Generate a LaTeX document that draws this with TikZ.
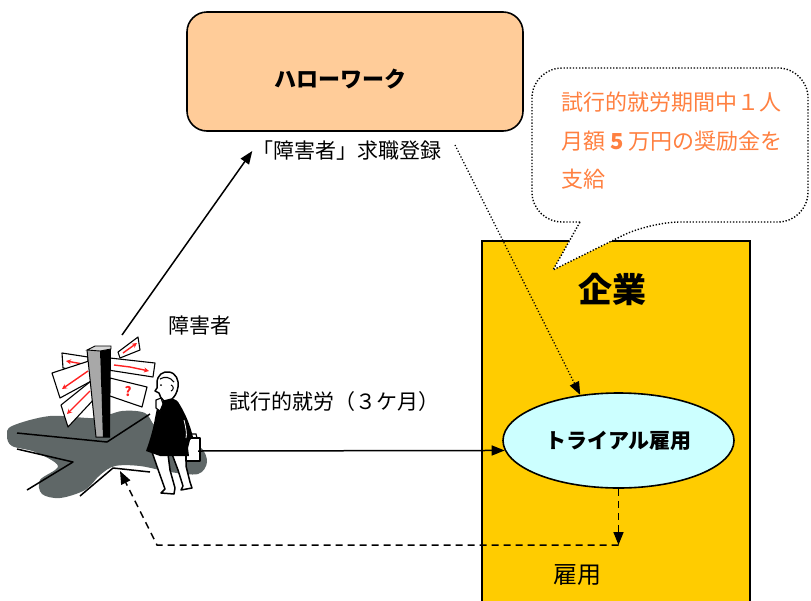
\documentclass[tikz,border=0pt]{standalone}
\usepackage{fontspec}
\newfontfamily\jp{Noto Sans CJK JP}
\usetikzlibrary{arrows.meta,shapes.geometric}
\definecolor{hwfill}{HTML}{FFCC99}
\definecolor{firmfill}{HTML}{FFCC00}
\definecolor{trialfill}{HTML}{CCFFFF}
\definecolor{notecol}{HTML}{FF8040}
\definecolor{groundgray}{HTML}{5F6767}
\definecolor{polegray}{HTML}{A8A8A8}
\definecolor{polecap}{HTML}{D8D8D8}
\definecolor{signred}{HTML}{FF2020}

\begin{document}
\begin{tikzpicture}[x=1pt,y=-1pt,
  txt/.style={font=\jp\fontsize{21}{25}\selectfont, inner sep=0},
  boldtxt/.style={font=\jp\bfseries\fontsize{#1}{#1}\selectfont, inner sep=0},
  flowarrow/.style={line width=1.5pt, -{Triangle[length=13pt,width=10pt]}},
  returnarrow/.style={flowarrow, dash pattern=on 7pt off 5pt},
  noticearrow/.style={line width=1.3pt, dash pattern=on 1.2pt off 2pt, -{Triangle[length=13pt,width=10pt]}},
  clipedge/.style={draw=black, line width=1.5pt, line join=round},
  signbox/.style={fill=white, draw=black, line width=1.1pt, line join=round},
  signarrow/.style={signred, line width=1.4pt, -{Stealth[length=5pt,width=5pt]}}
]
\useasboundingbox (0,0) rectangle (811,600);

% Hello Work office
\node[draw, line width=1.6pt, fill=hwfill, rounded corners=20pt,
      minimum width=336pt, minimum height=119pt, inner sep=0] (hw) at (355,71.5) {};
\node[boldtxt=22] (hwname) at (340,79) {ハローワーク};
\node[txt] (reglabel) at (347,151) {「障害者」求職登録};

% employer
\node[draw, line width=1.6pt, fill=firmfill, minimum width=268pt, minimum height=380pt,
      anchor=north west, inner sep=0] (firm) at (481,240) {};
\node[boldtxt=34] (firmname) at (612,289) {企業};

% subsidy callout
\draw[fill=white, line width=1.4pt, dash pattern=on 1.3pt off 1.8pt, rounded corners=30pt]
  (580,222) -- (532,222) -- (532,68) -- (808,68) -- (808,222) -- (650,222)
  [sharp corners] -- (553,270) -- cycle;
\node[font=\jp\fontsize{22}{38.5}\selectfont, text=notecol, inner sep=0,
      anchor=west, align=left] (note) at (561,141)
  {試行的就労期間中１人\\月額 \textbf{5} 万円の奨励金を\\支給};

% trial employment
\node[ellipse, draw, line width=1.6pt, fill=trialfill, minimum width=231pt,
      minimum height=95pt, boldtxt=21] (trial) at (618.5,440.5) {トライアル雇用};

\node[txt] (person) at (200,326) {障害者};
\node[txt] (triallabel) at (334,402) {試行的就労（３ケ月）};
\node[font=\jp\fontsize{24}{28}\selectfont, inner sep=0] (hired) at (577,575) {雇用};

% ---- job seeker at the signpost ----
\fill[groundgray] plot[smooth cycle, tension=0.55] coordinates {
  (12,426) (50,416) (95,418) (122,411) (145,413) (155,426) (175,440) (200,447)
  (207,462) (198,474) (170,472) (140,466) (115,466) (100,475) (85,490) (60,498)
  (42,494) (40,480) (58,466) (35,452) (12,446) (7,436)};
\draw[clipedge] (17,433) -- (107,442) -- (150,414);
\draw[clipedge] (17,449) -- (73,462) -- (27,490);
\draw[clipedge] (80,496) -- (113,468) -- (150,472);

% signs
\filldraw[signbox] (62,353) -- (88,357) -- (88,372) -- (63,368) -- cycle;
\draw[signarrow] (83,364) -- (66,361);
\filldraw[signbox] (52,373) -- (92,360) -- (95,379) -- (60,398) -- cycle;
\draw[signarrow] (88,371) -- (62,389);
\filldraw[signbox] (61,405) -- (91,381) -- (96,397) -- (68,427) -- cycle;
\draw[signarrow] (90,391) -- (67,414);
\filldraw[signbox] (118,352) -- (138,337) -- (140,350) -- (120,358) -- cycle;
\draw[signarrow] (123,353) -- (137,343);
\filldraw[signbox] (110,358) -- (155,363) -- (153,377) -- (108,370) -- cycle;
\draw[signarrow] (114,365) -- (130,367) -- (149,371);
\filldraw[signbox] (110,378) -- (147,387) -- (142,407) -- (107,395) -- cycle;
\node[text=signred, font=\jp\bfseries\fontsize{13}{13}\selectfont, inner sep=0] (qmark) at (128,392) {?};

% post
\fill[polegray] (87,350) -- (100,351) -- (103,437) -- (96,437) -- cycle;
\fill[black] (100,351) -- (111,349) -- (110,437) -- (103,437) -- cycle;
\filldraw[fill=polecap, draw=black, line width=0.9pt] (87,350) -- (95,346) -- (111,346) -- (111,349) -- (100,351) -- cycle;
\draw[line width=1pt] (87,350) -- (96,437) -- (110,437);

% walker
\filldraw[fill=white, clipedge] (152,452) -- (160,475) -- (165,489) -- (161,493)
  -- (174,494) -- (175,488) -- (170,470) -- (168,454) -- cycle;
\filldraw[fill=white, clipedge] (172,454) -- (178,470) -- (183,486) -- (181,490)
  -- (192,488) -- (190,482) -- (186,466) -- (186,454) -- cycle;
\filldraw[fill=white, clipedge] (186,438) rectangle (200,461);
\draw[line width=1.1pt] (189,438) -- (190,434) -- (196,434) -- (197,438);
\fill[black] (162,401) .. controls (170,397) and (176,397) .. (180,405)
  .. controls (186,415) and (190,425) .. (193,437) -- (190,440) -- (188,448)
  -- (189,456) -- (160,456) -- (146,451) .. controls (150,440) and (153,430) .. (155,418)
  -- (157,408) -- cycle;
\draw[white, line width=0.8pt] (184,420) .. controls (186,428) and (187,434) .. (186,438);
\filldraw[fill=white, clipedge] (157,383) .. controls (157,375) and (163,371) .. (169,372)
  .. controls (176,373) and (179,380) .. (178,387) .. controls (177,393) and (175,396) .. (172,399)
  -- (164,401) .. controls (161,399) and (160,396) .. (159,393) -- (155,391) -- (157,388) -- cycle;
\draw[line width=1.1pt] (160,379) .. controls (165,376) and (170,377) .. (174,382);
\draw[line width=1pt] (171,385) .. controls (174,386) and (174,390) .. (171,391);
\fill (161,385) circle (1);
\filldraw[fill=white, draw=black, line width=1.1pt] (156,400) -- (161,398) -- (163,404)
  -- (160,411) -- (156,408) -- cycle;

% connectors
\coordinate (seeker) at (122,335);
\coordinate (hwfoot) at (455,145);
\coordinate (walker) at (198,451);
\coordinate (hire) at (618.5,545);
\coordinate (bend) at (157,545);
\coordinate (seekerfoot) at (120,471);

\draw[flowarrow] (seeker) -- (reglabel.west);
\draw[noticearrow] (hwfoot) -- (trial.130);
\draw[flowarrow] (walker) -- (trial.185);
\draw[returnarrow] (trial.south) -- (hire);
\draw[returnarrow] (hire) -- (bend) -- (seekerfoot);
\end{tikzpicture}
\end{document}
